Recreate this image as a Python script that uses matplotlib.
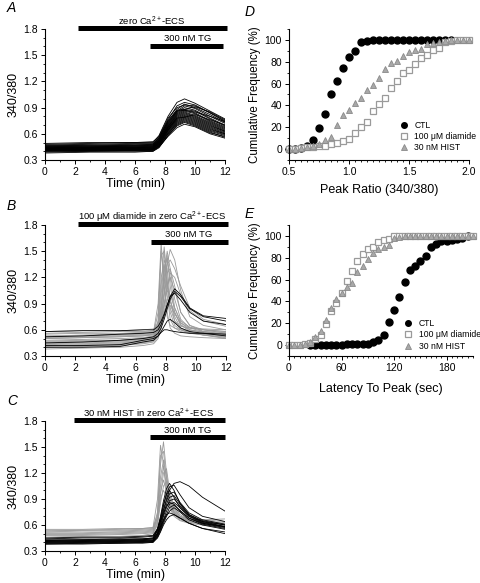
import matplotlib
matplotlib.use("Agg")
import matplotlib.pyplot as plt
from matplotlib.ticker import MultipleLocator
import numpy as np

plt.rcParams["font.family"] = ["Liberation Sans", "DejaVu Sans"]
plt.rcParams["mathtext.fontset"] = "custom"
plt.rcParams["mathtext.rm"] = "Liberation Sans"
plt.rcParams["mathtext.it"] = "Liberation Sans:italic"

# ---- panel A: control traces (all black) ----
t_a = [0, 3, 6, 7.2, 7.6, 8.2, 8.8, 9.3, 10.0, 11.0, 12]
traces_a = [
    [0.48, 0.49, 0.50, 0.50, 0.58, 0.80, 0.96, 1.00, 0.95, 0.86, 0.77],
    [0.47, 0.48, 0.49, 0.49, 0.56, 0.76, 0.92, 0.96, 0.93, 0.84, 0.75],
    [0.46, 0.47, 0.47, 0.48, 0.55, 0.74, 0.88, 0.94, 0.90, 0.82, 0.73],
    [0.46, 0.46, 0.47, 0.47, 0.54, 0.72, 0.86, 0.92, 0.89, 0.80, 0.72],
    [0.45, 0.46, 0.46, 0.47, 0.53, 0.71, 0.85, 0.90, 0.87, 0.78, 0.70],
    [0.45, 0.45, 0.46, 0.46, 0.52, 0.70, 0.84, 0.88, 0.86, 0.77, 0.69],
    [0.44, 0.45, 0.45, 0.46, 0.52, 0.69, 0.83, 0.87, 0.84, 0.75, 0.68],
    [0.44, 0.44, 0.45, 0.45, 0.51, 0.68, 0.82, 0.86, 0.83, 0.74, 0.67],
    [0.44, 0.44, 0.44, 0.45, 0.51, 0.68, 0.81, 0.85, 0.81, 0.73, 0.66],
    [0.43, 0.44, 0.44, 0.44, 0.50, 0.67, 0.80, 0.84, 0.80, 0.72, 0.65],
    [0.43, 0.43, 0.44, 0.44, 0.50, 0.66, 0.79, 0.83, 0.79, 0.71, 0.64],
    [0.43, 0.43, 0.43, 0.44, 0.49, 0.65, 0.78, 0.82, 0.78, 0.70, 0.63],
    [0.42, 0.43, 0.43, 0.43, 0.49, 0.64, 0.77, 0.81, 0.77, 0.69, 0.63],
    [0.42, 0.42, 0.43, 0.43, 0.48, 0.64, 0.76, 0.80, 0.76, 0.68, 0.62],
    [0.42, 0.42, 0.42, 0.43, 0.48, 0.63, 0.75, 0.79, 0.75, 0.67, 0.61],
    [0.41, 0.42, 0.42, 0.42, 0.47, 0.62, 0.74, 0.78, 0.74, 0.66, 0.60],
    [0.41, 0.41, 0.42, 0.42, 0.47, 0.61, 0.73, 0.77, 0.73, 0.65, 0.60],
    [0.41, 0.41, 0.41, 0.42, 0.46, 0.60, 0.72, 0.76, 0.72, 0.64, 0.59],
    [0.40, 0.41, 0.41, 0.41, 0.46, 0.60, 0.71, 0.75, 0.71, 0.63, 0.58],
    [0.40, 0.40, 0.41, 0.41, 0.45, 0.58, 0.69, 0.73, 0.69, 0.61, 0.57],
    [0.39, 0.40, 0.40, 0.40, 0.45, 0.57, 0.67, 0.71, 0.68, 0.60, 0.55],
    [0.38, 0.39, 0.39, 0.40, 0.44, 0.58, 0.70, 0.74, 0.70, 0.62, 0.56],
    [0.47, 0.47, 0.48, 0.48, 0.55, 0.75, 0.87, 0.88, 0.91, 0.85, 0.76],
    [0.45, 0.45, 0.46, 0.46, 0.53, 0.73, 0.86, 0.87, 0.85, 0.80, 0.74],
    [0.43, 0.44, 0.44, 0.45, 0.50, 0.66, 0.78, 0.79, 0.82, 0.76, 0.70],
    [0.49, 0.50, 0.50, 0.51, 0.57, 0.78, 0.90, 0.93, 0.92, 0.84, 0.74],
]

# ---- panels B / C: shared time grid ----
t_bc = [0, 2.5, 5.0, 6.5, 7.2, 7.5, 7.7, 7.9, 8.1, 8.3, 8.6, 9.0, 9.6, 10.5, 12]

gray_b = [
    [0.55, 0.56, 0.56, 0.57, 0.58, 0.90, 1.60, 1.10, 0.75, 0.65, 0.62, 0.60, 0.59, 0.58, 0.57],
    [0.50, 0.51, 0.52, 0.53, 0.55, 0.80, 1.45, 1.50, 1.00, 0.72, 0.62, 0.58, 0.56, 0.55, 0.54],
    [0.46, 0.47, 0.48, 0.50, 0.52, 0.65, 1.10, 1.55, 1.20, 0.80, 0.65, 0.60, 0.57, 0.55, 0.53],
    [0.44, 0.45, 0.46, 0.48, 0.50, 0.58, 0.80, 1.20, 1.45, 1.10, 0.80, 0.65, 0.60, 0.57, 0.55],
    [0.52, 0.53, 0.54, 0.55, 0.56, 0.60, 0.75, 1.00, 1.35, 1.52, 1.40, 1.05, 0.75, 0.65, 0.60],
    [0.58, 0.59, 0.59, 0.60, 0.61, 0.66, 0.85, 1.15, 1.35, 1.40, 1.30, 1.10, 0.85, 0.72, 0.66],
    [0.42, 0.43, 0.44, 0.46, 0.48, 0.60, 1.00, 1.40, 1.30, 0.95, 0.70, 0.60, 0.56, 0.54, 0.52],
    [0.48, 0.49, 0.50, 0.51, 0.53, 0.62, 0.90, 1.30, 1.42, 1.20, 0.85, 0.68, 0.60, 0.57, 0.55],
    [0.40, 0.41, 0.42, 0.44, 0.46, 0.52, 0.70, 1.00, 1.25, 1.30, 1.10, 0.80, 0.65, 0.58, 0.53],
    [0.53, 0.54, 0.55, 0.56, 0.57, 0.70, 1.20, 1.35, 1.10, 0.85, 0.70, 0.64, 0.62, 0.61, 0.60],
    [0.45, 0.46, 0.47, 0.49, 0.51, 0.55, 0.65, 0.85, 1.10, 1.20, 1.05, 0.80, 0.65, 0.60, 0.56],
    [0.50, 0.51, 0.52, 0.53, 0.54, 0.58, 0.70, 0.90, 1.05, 1.00, 0.85, 0.70, 0.63, 0.60, 0.58],
    [0.38, 0.39, 0.40, 0.42, 0.44, 0.50, 0.62, 0.80, 0.95, 0.92, 0.80, 0.66, 0.58, 0.54, 0.50],
    [0.47, 0.48, 0.48, 0.50, 0.52, 0.60, 0.85, 1.25, 1.50, 1.30, 0.95, 0.72, 0.62, 0.58, 0.55],
    [0.56, 0.57, 0.58, 0.58, 0.59, 0.62, 0.72, 0.90, 1.10, 1.25, 1.20, 1.00, 0.82, 0.70, 0.64],
    [0.43, 0.44, 0.45, 0.47, 0.49, 0.56, 0.75, 1.05, 1.15, 0.95, 0.75, 0.62, 0.57, 0.54, 0.51],
    [0.51, 0.52, 0.53, 0.54, 0.55, 0.59, 0.68, 0.80, 0.90, 0.88, 0.78, 0.68, 0.62, 0.60, 0.58],
    [0.41, 0.42, 0.43, 0.45, 0.47, 0.70, 1.50, 1.20, 0.80, 0.62, 0.56, 0.53, 0.52, 0.51, 0.50],
]
black_b = [
    [0.58, 0.59, 0.59, 0.60, 0.60, 0.64, 0.70, 0.78, 0.88, 0.98, 1.07, 1.00, 0.85, 0.76, 0.73],
    [0.45, 0.46, 0.48, 0.50, 0.52, 0.56, 0.62, 0.72, 0.84, 0.95, 1.04, 0.98, 0.84, 0.75, 0.70],
    [0.42, 0.42, 0.43, 0.48, 0.50, 0.53, 0.58, 0.64, 0.70, 0.72, 0.68, 0.62, 0.58, 0.56, 0.53],
    [0.40, 0.40, 0.41, 0.46, 0.48, 0.53, 0.57, 0.60, 0.60, 0.59, 0.58, 0.57, 0.56, 0.56, 0.55],
    [0.52, 0.53, 0.55, 0.56, 0.57, 0.60, 0.66, 0.76, 0.88, 0.98, 1.02, 0.94, 0.80, 0.70, 0.66],
]

gray_c = [
    [0.55, 0.55, 0.56, 0.56, 0.57, 0.90, 1.52, 1.30, 0.95, 0.80, 0.70, 0.65, 0.62, 0.60, 0.58],
    [0.52, 0.53, 0.53, 0.54, 0.55, 0.75, 1.30, 1.56, 1.20, 0.90, 0.75, 0.68, 0.64, 0.62, 0.60],
    [0.50, 0.50, 0.51, 0.52, 0.53, 0.70, 1.15, 1.35, 1.15, 0.92, 0.78, 0.70, 0.66, 0.63, 0.61],
    [0.48, 0.48, 0.49, 0.50, 0.51, 0.62, 0.95, 1.20, 1.25, 1.00, 0.82, 0.72, 0.66, 0.63, 0.60],
    [0.53, 0.54, 0.54, 0.55, 0.56, 0.68, 1.05, 1.28, 1.05, 0.85, 0.74, 0.68, 0.65, 0.64, 0.63],
    [0.46, 0.47, 0.47, 0.48, 0.50, 0.60, 0.85, 1.05, 1.10, 0.95, 0.80, 0.70, 0.64, 0.61, 0.58],
    [0.51, 0.51, 0.52, 0.53, 0.54, 0.66, 0.98, 1.12, 0.98, 0.84, 0.74, 0.68, 0.66, 0.66, 0.67],
    [0.49, 0.49, 0.50, 0.51, 0.52, 0.64, 0.90, 1.00, 0.92, 0.82, 0.72, 0.66, 0.63, 0.61, 0.59],
    [0.54, 0.54, 0.55, 0.56, 0.57, 0.72, 1.40, 1.45, 1.10, 0.88, 0.76, 0.70, 0.67, 0.66, 0.64],
]
black_c = [
    [0.44, 0.45, 0.45, 0.46, 0.47, 0.55, 0.65, 0.78, 0.90, 1.00, 1.08, 1.10, 1.05, 0.92, 0.76],
    [0.43, 0.43, 0.44, 0.44, 0.45, 0.55, 0.70, 0.88, 1.02, 1.08, 1.00, 0.85, 0.72, 0.65, 0.60],
    [0.42, 0.42, 0.43, 0.43, 0.44, 0.53, 0.66, 0.82, 0.95, 1.00, 0.92, 0.80, 0.70, 0.64, 0.60],
    [0.41, 0.41, 0.42, 0.42, 0.43, 0.51, 0.62, 0.76, 0.88, 0.96, 0.98, 0.86, 0.74, 0.66, 0.61],
    [0.40, 0.41, 0.41, 0.42, 0.42, 0.50, 0.60, 0.72, 0.84, 0.92, 0.94, 0.84, 0.72, 0.64, 0.58],
    [0.40, 0.40, 0.41, 0.41, 0.42, 0.49, 0.58, 0.70, 0.80, 0.88, 0.90, 0.82, 0.71, 0.63, 0.58],
    [0.39, 0.40, 0.40, 0.41, 0.41, 0.48, 0.56, 0.66, 0.76, 0.84, 0.86, 0.80, 0.70, 0.62, 0.57],
    [0.39, 0.39, 0.40, 0.40, 0.41, 0.47, 0.55, 0.64, 0.72, 0.80, 0.83, 0.77, 0.68, 0.61, 0.56],
    [0.38, 0.39, 0.39, 0.40, 0.40, 0.46, 0.53, 0.62, 0.70, 0.76, 0.80, 0.75, 0.66, 0.60, 0.55],
    [0.42, 0.43, 0.43, 0.44, 0.45, 0.54, 0.64, 0.74, 0.82, 0.86, 0.84, 0.76, 0.68, 0.62, 0.58],
    [0.45, 0.46, 0.46, 0.47, 0.48, 0.56, 0.68, 0.84, 0.96, 1.04, 1.06, 0.95, 0.80, 0.70, 0.64],
    [0.41, 0.42, 0.42, 0.43, 0.44, 0.50, 0.58, 0.66, 0.72, 0.74, 0.72, 0.68, 0.62, 0.56, 0.50],
    [0.38, 0.38, 0.39, 0.39, 0.40, 0.45, 0.52, 0.60, 0.66, 0.70, 0.72, 0.68, 0.62, 0.56, 0.52],
]

# ---- panel D: cumulative frequency of peak ratio ----
ratio_ctl = [0.50, 0.55, 0.60, 0.65, 0.70, 0.75, 0.80, 0.85, 0.90, 0.95, 1.00, 1.05,
             1.10, 1.15, 1.20, 1.25, 1.30, 1.35, 1.40, 1.45, 1.50, 1.55, 1.60, 1.65,
             1.70, 1.75, 1.80, 1.85]
cum_ratio_ctl = [0, 0, 1, 3, 8.5, 19, 32, 50, 62, 74, 84, 90,
                 98, 99, 100, 100, 100, 100, 100, 100, 100, 100, 100, 100,
                 100, 100, 100, 100]
ratio_dia = [0.50, 0.55, 0.60, 0.65, 0.70, 0.75, 0.80, 0.85, 0.90, 0.95, 1.00, 1.05,
             1.10, 1.15, 1.20, 1.25, 1.30, 1.35, 1.40, 1.45, 1.50, 1.55, 1.60, 1.65,
             1.70, 1.75, 1.80, 1.85, 1.90, 1.95, 2.00]
cum_ratio_dia = [0, 0, 1, 1.5, 2, 2.5, 3, 4.5, 6, 7.5, 9, 15,
                 20, 25, 35, 41, 47, 56, 62, 70, 72.5, 78, 83, 86,
                 91, 93, 98, 99, 100, 100, 100]
ratio_hist = [0.50, 0.55, 0.60, 0.65, 0.70, 0.75, 0.80, 0.85, 0.90, 0.95, 1.00, 1.05,
              1.10, 1.15, 1.20, 1.25, 1.30, 1.35, 1.40, 1.45, 1.50, 1.55, 1.60, 1.65,
              1.70, 1.75, 1.80, 1.85, 1.90, 1.95, 2.00]
cum_ratio_hist = [0, 0.5, 1, 1.5, 3, 5, 8, 11, 22, 31, 36, 42,
                  47, 54, 59, 65, 73, 79, 81, 85, 89, 91, 92, 96,
                  97.5, 98.5, 99, 100, 100, 100, 100]

# ---- panel E: cumulative frequency of latency to peak ----
lat_ctl = [24, 30, 36, 42, 48, 54, 60, 66, 72, 78, 84, 90, 96, 102, 108, 114, 120,
           126, 132, 138, 144, 150, 156, 162, 168, 174, 180, 186, 192, 198, 204]
cum_lat_ctl = [0, 0, 0, 0, 0, 0, 0, 1, 1, 1, 1, 1, 3, 5, 9, 21, 32,
               44, 58, 69, 72, 77, 82, 90, 93, 95, 95, 96, 97, 98.5, 99.5]
lat_dia = [0, 6, 12, 18, 24, 30, 36, 42, 48, 54, 60, 66, 72, 78, 84, 90, 96, 102,
           108, 114, 120, 126, 132, 138, 144, 150, 156, 162, 168, 174, 180, 186, 192,
           198, 204, 210]
cum_lat_dia = [0, 0, 0, 1, 2, 6, 9, 19, 31, 39, 48, 59, 68, 77, 83, 88, 90, 94,
               96, 97, 100, 100, 100, 100, 100, 100, 100, 100, 100, 100, 100, 100, 100,
               100, 100, 100]
lat_hist = [0, 6, 12, 18, 24, 30, 36, 42, 48, 54, 60, 66, 72, 78, 84, 90, 96, 102,
            108, 114, 120, 126, 132, 138, 144, 150, 156, 162, 168, 174, 180, 186, 192,
            198, 204, 210]
cum_lat_hist = [0, 0, 0, 1, 3, 7, 13, 23, 34, 42, 48, 53, 57, 67, 72, 79, 84, 88,
                90, 92, 98, 99, 100, 100, 100, 100, 100, 100, 100, 100, 100, 100, 100,
                100, 100, 100]

W, H = 480, 583
GRAY = "#9a9a9a"


def px_axes(fig, left, top, right, bottom):
    return fig.add_axes([left / W, 1 - bottom / H, (right - left) / W, (bottom - top) / H])


def style(ax):
    for s in ("top", "right"):
        ax.spines[s].set_visible(False)
    for s in ("left", "bottom"):
        ax.spines[s].set_linewidth(0.8)
    ax.tick_params(which="major", direction="out", length=3, width=0.7, labelsize=7.5, pad=2)
    ax.tick_params(which="minor", direction="out", length=1.6, width=0.6)


def trace_panel(ax, t, gray, black, bar1, bar1_txt, bar2_end, txt1_x):
    if gray is not None:
        for row in gray:
            ax.plot(t, row, color=GRAY, lw=0.6)
    for row in black:
        ax.plot(t, row, color="black", lw=0.6)
    ax.set_xlim(0, 12)
    ax.set_ylim(0.3, 1.8)
    ax.set_xticks([0, 2, 4, 6, 8, 10, 12])
    ax.set_yticks([0.3, 0.6, 0.9, 1.2, 1.5, 1.8])
    ax.xaxis.set_minor_locator(MultipleLocator(1))
    ax.yaxis.set_minor_locator(MultipleLocator(0.1))
    ax.set_xlabel("Time (min)", fontsize=9, labelpad=1)
    ax.set_ylabel("340/380", fontsize=9, labelpad=3)
    style(ax)
    # solution bars
    ax.plot(bar1, [1.81, 1.81], color="black", lw=3.6, solid_capstyle="butt", clip_on=False)
    ax.text(txt1_x, 1.885, bar1_txt, ha="center", va="center", fontsize=6.8)
    ax.plot([7.0, bar2_end], [1.61, 1.61], color="black", lw=3.6, solid_capstyle="butt", clip_on=False)
    ax.text(9.5, 1.69, "300 nM TG", ha="center", va="center", fontsize=6.8)


fig = plt.figure(figsize=(W / 100, H / 100), dpi=100)

ax_a = px_axes(fig, 45, 29, 225, 160)
trace_panel(ax_a, t_a, None, traces_a, [2.2, 12.15], r"zero Ca$^{2+}$-ECS", 11.85, 7.1)

ax_b = px_axes(fig, 45, 225, 226, 356)
trace_panel(ax_b, t_bc, gray_b, black_b, [2.2, 12.1], r"100 μM diamide in zero Ca$^{2+}$-ECS", 12.1, 7.1)

ax_c = px_axes(fig, 45, 421, 225, 551)
trace_panel(ax_c, t_bc, gray_c, black_c, [1.95, 12.0], r"30 nM HIST in zero Ca$^{2+}$-ECS", 12.0, 6.9)

for lab, (x, y) in zip("ABCDE", [(7, 8), (7, 206), (7, 401), (245, 12), (245, 214)]):
    fig.text(x / W, 1 - y / H, lab, fontsize=10, style="italic", ha="left", va="center")

mk = dict(ms=5, lw=0, clip_on=False)
leg = dict(loc="upper left", frameon=False, fontsize=6.2, handlelength=1.1,
           handletextpad=0.7, labelspacing=0.25, borderpad=0, borderaxespad=0,
           markerscale=0.8)

# D
ax_d = px_axes(fig, 289, 29, 469, 160)
ax_d.plot(ratio_ctl, cum_ratio_ctl, "o", color="black", label="CTL", **mk)
ax_d.plot(ratio_dia, cum_ratio_dia, "s", mfc="white", mec=GRAY, mew=0.9, label="100 μM diamide", **mk)
ax_d.plot(ratio_hist, cum_ratio_hist, "^", mfc="#a8a8a8", mec="#8a8a8a", mew=0.6, label="30 nM HIST", **mk)
ax_d.set_xlim(0.5, 2.0)
ax_d.set_ylim(-10, 110)
ax_d.set_xticks([0.5, 1.0, 1.5, 2.0])
ax_d.set_yticks([0, 20, 40, 60, 80, 100])
ax_d.xaxis.set_minor_locator(MultipleLocator(0.05))
ax_d.yaxis.set_minor_locator(MultipleLocator(10))
ax_d.set_xlabel("Peak Ratio (340/380)", fontsize=9, labelpad=5)
ax_d.set_ylabel("Cumulative Frequency (%)", fontsize=8.3, labelpad=3)
style(ax_d)
ax_d.legend(bbox_to_anchor=(0.61, 0.30), **leg)

# E
ax_e = px_axes(fig, 289, 225, 473, 356)
ax_e.plot(lat_ctl, cum_lat_ctl, "o", color="black", label="CTL", **mk)
ax_e.plot(lat_dia, cum_lat_dia, "s", mfc="white", mec=GRAY, mew=0.9, label="100 μM diamide", **mk)
ax_e.plot(lat_hist, cum_lat_hist, "^", mfc="#a8a8a8", mec="#8a8a8a", mew=0.6, label="30 nM HIST", **mk)
ax_e.set_xlim(0, 210)
ax_e.set_ylim(-10, 110)
ax_e.set_xticks([0, 60, 120, 180])
ax_e.set_yticks([0, 20, 40, 60, 80, 100])
ax_e.xaxis.set_minor_locator(MultipleLocator(6))
ax_e.yaxis.set_minor_locator(MultipleLocator(10))
ax_e.set_xlabel("Latency To Peak (sec)", fontsize=9, labelpad=7)
ax_e.set_ylabel("Cumulative Frequency (%)", fontsize=8.3, labelpad=3)
style(ax_e)
ax_e.legend(bbox_to_anchor=(0.62, 0.28), **leg)

fig.savefig("out.png", dpi=100)
